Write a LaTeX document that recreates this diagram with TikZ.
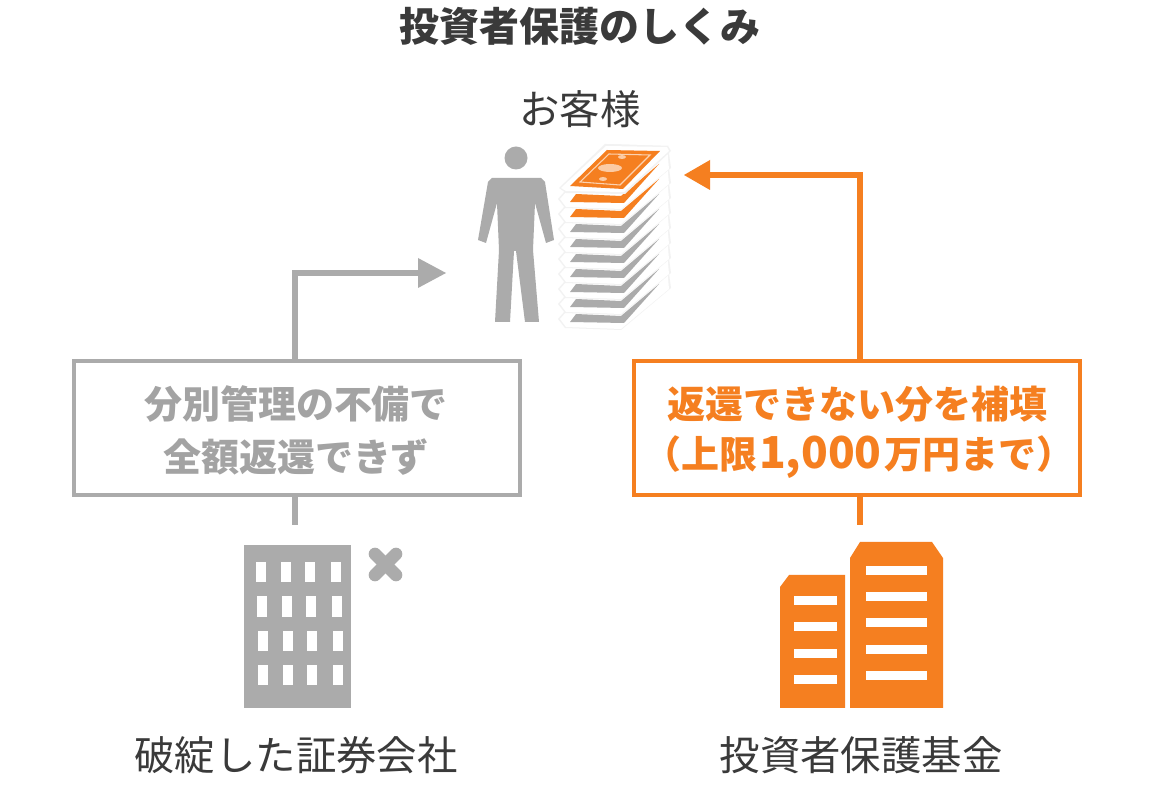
\documentclass[tikz,border=0pt]{standalone}
\usepackage{fontspec}
\setmainfont{Noto Sans CJK JP}
\definecolor{org}{HTML}{F57F20}
\definecolor{gry}{HTML}{ABABAB}
\definecolor{gtx}{HTML}{A3A3A3}
\definecolor{dtx}{HTML}{3A3A3A}
\definecolor{pale}{HTML}{F2F2F2}
\tikzset{
 px/.style={x=0.75pt,y=-0.75pt},
 title/.style={inner sep=0,text=dtx,font=\fontsize{30}{32}\selectfont\bfseries},
 label/.style={inner sep=0,text=dtx,font=\fontsize{30.3}{32}\selectfont},
 infobox/.style={line width=3pt,minimum width=334.5pt,minimum height=100pt,inner sep=0},
 boxtext/.style={inner sep=0,font=\fontsize{28.5}{32}\selectfont\bfseries},
 conn/.style={line width=4.5pt,line join=miter},
}
\newcommand{\strip}[2]{%
 \fill[pale,shift={(0,#2)}] (558,199) -- (565,208) -- (621,210) -- (671,168) -- (668,146) -- (606,144) -- cycle;
 \fill[white,shift={(0,#2)}] (560,199) -- (566,207) -- (621,209) -- (669,169) -- (667,147) -- (606,146) -- cycle;
 \fill[#1,shift={(0,#2)}] (570,202) -- (576,194) -- (621,196) -- (659,164) -- (624,203) -- cycle;
}
\begin{document}
\begin{tikzpicture}[px]
\useasboundingbox (0,0) rectangle (1158,812);
\fill[white] (0,0) rectangle (1158,812);
\node[title] (ttl) at (580,26) {投資者保護のしくみ};
\node[label] (cust) at (580,109) {お客様};
\coordinate (grayend) at (418,273);
\coordinate (orgend) at (710,175);
\coordinate (grayturn) at (295,273);
\coordinate (orgturn) at (860,175);
\coordinate (graybot) at (295,525);
\coordinate (orgbot) at (860,525);
\node[infobox,draw=gry] (gbox) at (296.5,428) {};
\node[infobox,draw=org] (obox) at (857,428) {};
\draw[conn,gry] (gbox.north -| grayturn) -- (grayturn) -- (grayend);
\fill[gry] (418,258) -- (446,273) -- (418,288) -- cycle;
\draw[conn,gry] (gbox.south -| graybot) -- (graybot);
\draw[conn,org] (obox.north -| orgturn) -- (orgturn) -- (orgend);
\fill[org] (710,160) -- (684,175) -- (710,190) -- cycle;
\draw[conn,org] (obox.south -| orgbot) -- (orgbot);
\node[boxtext,text=gtx] (g1) at (296,404) {分別管理の不備で};
\node[boxtext,text=gtx] (g2) at (296,457) {全額返還できず};
\node[boxtext,text=org] (o1) at (857,404) {返還できない分を補填};
\node[boxtext,text=org] (o2) at (859,457) {（上限\hspace{1pt}{\fontsize{33}{34}\selectfont 1,000}\hspace{2pt}万円まで）};
% person
\fill[gry] (516,158) circle (11.5);
\fill[gry] (492,178) -- (541,178) -- (545,182) -- (554,240) -- (546,243) -- (535,203) -- (533,250) -- (539,322) -- (525,322) -- (516,251) -- (514,251) -- (510,322) -- (495,322) -- (499,250) -- (497,203) -- (486,243) -- (478,240) -- (488,182) -- cycle;
% money stack (drawn bottom to top)
\foreach \i in {8,7,...,2}{\strip{gry}{\i*15}}
\strip{org}{15}
\strip{org}{0}
% top note
\fill[pale] (559,188) -- (605,144) -- (668,146) -- (671,151) -- (625,194) -- (566,193) -- cycle;
\fill[white] (561,188) -- (606,146) -- (667,147) -- (669,151) -- (624,192) -- (566,191) -- cycle;
\fill[org] (570,186) -- (607,150) -- (660,151) -- (623,189) -- cycle;
\draw[white,opacity=.65,line width=.8pt] (580,182) -- (609,154) -- (650,155) -- (620,185) -- cycle;
\fill[white,opacity=.6] (610,168) ellipse (12 and 4);
\fill[white,opacity=.6] (603,179) ellipse (4 and 2);
\fill[white,opacity=.6] (622,157) ellipse (4 and 2);
% failed company
\fill[gry] (244,545) rectangle (351,708);
\foreach \r/\dx in {0/0,1/1,2/2,3/2}{
 \foreach \c/\x in {0/256,1/281,2/305,3/331}{
  \fill[white] ({\x+\dx+\c*0.1},{562+\r*34.3}) rectangle ++(9.5,20.5);
 }
}
\draw[gry,line width=9.5pt,line cap=round] (375,554) -- (396,575);
\draw[gry,line width=9.5pt,line cap=round] (396,554) -- (375,575);
% fund buildings
\fill[org] (780,708) -- (780,587) -- (789,575) -- (845,575) -- (845,708) -- cycle;
\fill[org] (850,708) -- (850,558) -- (860,542) -- (932,542) -- (943,558) -- (943,708) -- cycle;
\foreach \r in {0,...,3}{\fill[white] (794,{596+\r*26.3}) rectangle ++(43,9);}
\foreach \r in {0,...,4}{\fill[white] (866,{566+\r*26.2}) rectangle ++(60.5,9);}
\node[label] (co) at (296,755) {破綻した証券会社};
\node[label] (fund) at (861,755) {投資者保護基金};
\end{tikzpicture}
\end{document}
